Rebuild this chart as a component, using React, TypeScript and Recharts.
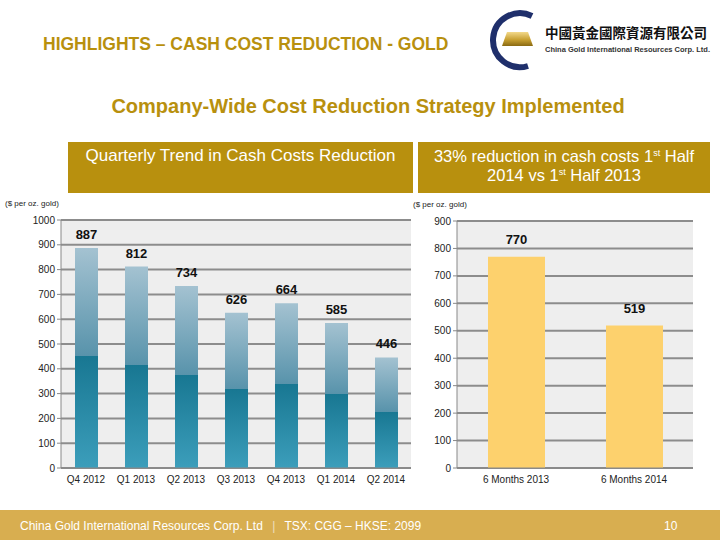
import { BarChart, Bar, XAxis, YAxis, CartesianGrid, LabelList } from 'recharts';

const quarters = ['Q4 2012', 'Q1 2013', 'Q2 2013', 'Q3 2013', 'Q4 2013', 'Q1 2014', 'Q2 2014'];
const quarterCosts = [887, 812, 734, 626, 664, 585, 446];
const quarterTicks = [0, 100, 200, 300, 400, 500, 600, 700, 800, 900, 1000];

const halves = ['6 Months 2013', '6 Months 2014'];
const halfCosts = [770, 519];
const halfTicks = [0, 100, 200, 300, 400, 500, 600, 700, 800, 900];

const quarterData = quarters.map((q, i) => ({ name: q, cost: quarterCosts[i] }));
const halfData = halves.map((h, i) => ({ name: h, cost: halfCosts[i] }));

const GOLD = '#b8900e';
const FONT = '"Liberation Sans", Arial, sans-serif';

const tickStyle = { fontSize: 10, fill: '#222', fontFamily: FONT };
const labelStyle = { fontSize: 13, fontWeight: 700, fill: '#111', fontFamily: FONT };

function Logo() {
  return (
    <svg width={240} height={70} style={{ position: 'absolute', left: 480, top: 6 }}>
      <defs>
        <linearGradient id="goldbar" x1="0" y1="0" x2="0" y2="1">
          <stop offset="0%" stopColor="#f3d98a" />
          <stop offset="55%" stopColor="#c8a032" />
          <stop offset="100%" stopColor="#8a6a12" />
        </linearGradient>
      </defs>
      <path d="M 52 10 A 27 27 0 1 0 48 60" fill="none" stroke="#1f2f6b" strokeWidth={6} />
      <polygon points="27,26 48,26 53,40 22,40" fill="url(#goldbar)" />
      <text x={65} y={32} fontSize={13.5} fontWeight={700} fill="#111" fontFamily='"Noto Sans CJK TC", sans-serif'>
        中國黃金國際資源有限公司
      </text>
      <text x={65} y={46} fontSize={7.5} fontWeight={700} fill="#333" fontFamily={FONT}>
        China Gold International Resources Corp. Ltd.
      </text>
    </svg>
  );
}

function BarGradient() {
  return (
    <defs>
      <linearGradient id="tealbar" x1="0" y1="0" x2="0" y2="1">
        <stop offset="0%" stopColor="#a4c2d1" />
        <stop offset="49%" stopColor="#5893ab" />
        <stop offset="49%" stopColor="#187792" />
        <stop offset="100%" stopColor="#3c9ebb" />
      </linearGradient>
    </defs>
  );
}

export default function App() {
  return (
    <div style={{ position: 'absolute', left: 0, top: 0, width: 720, height: 540, background: '#fff', overflow: 'hidden', fontFamily: FONT }}>
      <div style={{ position: 'absolute', left: 43, top: 34, fontSize: 17.5, fontWeight: 700, color: GOLD }}>
        HIGHLIGHTS – CASH COST REDUCTION - GOLD
      </div>
      <Logo />
      <div style={{ position: 'absolute', left: 0, width: 736, top: 95, textAlign: 'center', fontSize: 20, fontWeight: 700, color: GOLD }}>
        Company-Wide Cost Reduction Strategy Implemented
      </div>
      <div style={{ position: 'absolute', left: 68, top: 142, width: 345, height: 51, background: GOLD, color: '#fff', fontSize: 17, textAlign: 'center', paddingTop: 4, boxSizing: 'border-box' }}>
        Quarterly Trend in Cash Costs Reduction
      </div>
      <div style={{ position: 'absolute', left: 418, top: 142, width: 292, height: 51, background: GOLD, color: '#fff', fontSize: 16.5, textAlign: 'center', paddingTop: 5, lineHeight: '19px', boxSizing: 'border-box' }}>
        33% reduction in cash costs 1<sup style={{ fontSize: 9, lineHeight: 0 }}>st</sup> Half<br />2014 vs 1<sup style={{ fontSize: 9, lineHeight: 0 }}>st</sup> Half 2013
      </div>
      <div style={{ position: 'absolute', left: 5, top: 199, fontSize: 8, color: '#222' }}>($ per oz. gold)</div>
      <div style={{ position: 'absolute', left: 413, top: 200, fontSize: 8, color: '#222' }}>($ per oz. gold)</div>

      <div style={{ position: 'absolute', left: 0, top: 200 }}>
        <BarChart width={420} height={290} data={quarterData} margin={{ top: 20, right: 9, left: 0, bottom: 0 }} barCategoryGap={0}>
          <BarGradient />
          <CartesianGrid vertical={false} fill="#eeeeee" stroke="#8c8c8c" strokeWidth={2} />
          <XAxis dataKey="name" height={22} tick={tickStyle} tickLine={false} axisLine={{ stroke: '#888' }} interval={0} />
          <YAxis width={61} domain={[0, 1000]} ticks={quarterTicks} tick={tickStyle} tickLine={{ stroke: '#888' }} tickSize={4} axisLine={{ stroke: '#888' }} />
          <Bar dataKey="cost" fill="url(#tealbar)" barSize={23} isAnimationActive={false}>
            <LabelList dataKey="cost" position="top" offset={9} style={labelStyle} />
          </Bar>
        </BarChart>
      </div>

      <div style={{ position: 'absolute', left: 410, top: 200 }}>
        <BarChart width={300} height={290} data={halfData} margin={{ top: 21, right: 17, left: 0, bottom: 0 }}>
          <CartesianGrid vertical={false} fill="#eeeeee" stroke="#8c8c8c" strokeWidth={2} />
          <XAxis dataKey="name" height={22} tick={tickStyle} tickLine={false} axisLine={{ stroke: '#888' }} interval={0} />
          <YAxis width={47} domain={[0, 900]} ticks={halfTicks} tick={tickStyle} tickLine={{ stroke: '#888' }} tickSize={4} axisLine={{ stroke: '#888' }} />
          <Bar dataKey="cost" fill="#fdd16d" barSize={57} isAnimationActive={false}>
            <LabelList dataKey="cost" position="top" offset={13} style={labelStyle} />
          </Bar>
        </BarChart>
      </div>

      <div style={{ position: 'absolute', left: 0, top: 510, width: 720, height: 30, background: '#d8ae50' }}>
        <div style={{ position: 'absolute', left: 20, top: 9, fontSize: 12, color: '#fff' }}>
          China Gold International Resources Corp. Ltd <span style={{ margin: '0 6px', opacity: 0.6 }}>|</span> TSX: CGG – HKSE: 2099
        </div>
        <div style={{ position: 'absolute', left: 664, top: 9, fontSize: 12, color: '#fff' }}>10</div>
      </div>
    </div>
  );
}
